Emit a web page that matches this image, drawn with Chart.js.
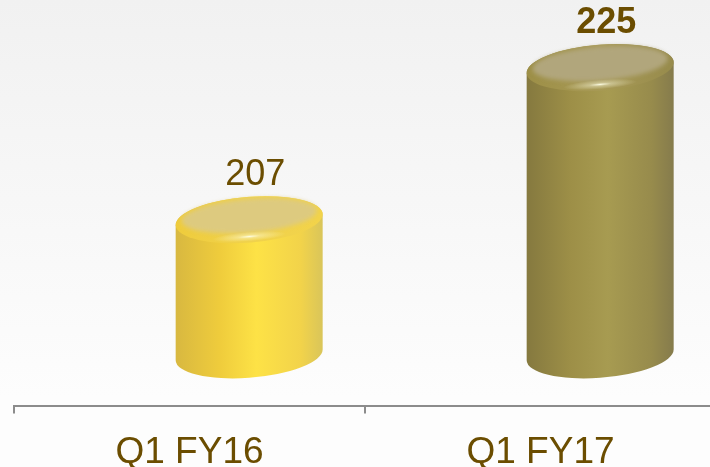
<!DOCTYPE html>
<html>
<head>
<meta charset="utf-8">
<script src="https://cdn.jsdelivr.net/npm/chart.js@4.4.1/dist/chart.umd.min.js"></script>
<style>
  html, body { margin: 0; padding: 0; overflow: hidden; }
  #box {
    position: relative; width: 710px; height: 467px; overflow: hidden;
    background: linear-gradient(#f1f1f1, #fdfdfd 85%);
  }
  #myChart { display: block; position: absolute; left: 0; top: 0; }
</style>
</head>
<body>
<!-- the axis runs on past the right and bottom edges, so the canvas is a bit larger than its box -->
<div id="box"><canvas id="myChart" width="720" height="492"></canvas></div>
<script>
var categories = ['Q1 FY16', 'Q1 FY17']
var values = [207, 225]

// cylinder paints: [left edge, light, centre, right shade, right edge], top face, rim
var bodyColors = [
    ['#d8b840', '#efcc3c', '#fde246', '#f2d34a', '#d9c55a'],
    ['#85793f', '#9d8f47', '#a79b51', '#978b4c', '#857b4c']
]
var topColors = ['#ddca7f', '#b1a67c']
var rimColors = ['#f0d24c', '#a89a56']

var textColor = '#6b4d00'

var cylinders = {
    id: 'cylinders',
    afterDatasetsDraw: function(chart) {
        var ctx = chart.ctx
        var meta = chart.getDatasetMeta(0)
        meta.data.forEach(function(bar, i) {
            var catW = chart.scales.x.width / categories.length
            var cx = bar.x + catW * 0.17
            var rx = bar.width / 2
            var ry = rx * 0.31
            var rot = -0.08
            var topY = bar.y
            var botY = bar.base
            var t0 = Math.atan(-ry * Math.tan(rot) / rx)

            ctx.save()
            // body
            var g = ctx.createLinearGradient(cx - rx, 0, cx + rx, 0)
            var c = bodyColors[i]
            g.addColorStop(0, c[0])
            g.addColorStop(0.3, c[1])
            g.addColorStop(0.55, c[2])
            g.addColorStop(0.85, c[3])
            g.addColorStop(1, c[4])
            ctx.beginPath()
            ctx.ellipse(cx, topY, rx, ry, rot, t0 + Math.PI, t0 + 2 * Math.PI)
            ctx.ellipse(cx, botY, rx, ry, rot, t0, t0 + Math.PI)
            ctx.closePath()
            ctx.fillStyle = g
            ctx.fill()

            // rounded lip of the top face
            var lg = ctx.createLinearGradient(cx - rx, 0, cx + rx, 0)
            lg.addColorStop(0, c[1])
            lg.addColorStop(0.5, rimColors[i])
            lg.addColorStop(1, c[3])
            ctx.beginPath()
            ctx.ellipse(cx, topY, rx, ry, rot, 0, 2 * Math.PI)
            ctx.fillStyle = lg
            ctx.fill()

            // flat top face
            ctx.beginPath()
            ctx.ellipse(cx, topY - 4, rx - 6, ry - 6, rot, 0, 2 * Math.PI)
            ctx.fillStyle = topColors[i]
            ctx.filter = 'blur(2px)'
            ctx.fill()
            ctx.filter = 'none'

            // highlight on the front of the lip
            var hy = topY + ry - 6
            var rg = ctx.createRadialGradient(cx, hy, 0, cx, hy, rx * 0.5)
            rg.addColorStop(0, 'rgba(255,255,230,0.95)')
            rg.addColorStop(0.3, 'rgba(255,255,230,0.4)')
            rg.addColorStop(1, 'rgba(255,255,230,0)')
            ctx.translate(cx, hy)
            ctx.rotate(rot)
            ctx.scale(1, 0.13)
            ctx.translate(-cx, -hy)
            ctx.beginPath()
            ctx.arc(cx, hy, rx * 0.5, 0, 2 * Math.PI)
            ctx.fillStyle = rg
            ctx.fill()
            ctx.restore()

            // value label
            ctx.save()
            ctx.font = (i == values.length - 1 ? 'bold ' : '') + '36px Arial, "Liberation Sans"'
            ctx.fillStyle = textColor
            ctx.textAlign = 'center'
            ctx.textBaseline = 'middle'
            ctx.fillText(values[i], cx + 6, topY - ry - 22)
            ctx.restore()
        })
    }
}

var ctx = document.getElementById('myChart')

var myChart = new Chart(ctx, {
    type: 'bar',
    data: {
        labels: categories,
        datasets: [{
            data: values,
            base: 191,
            backgroundColor: 'rgba(0,0,0,0)',
            categoryPercentage: 1,
            barPercentage: 0.42
        }]
    },
    plugins: [cylinders],
    options: {
        responsive: false,
        animation: false,
        layout: { padding: { left: 14, right: 4, top: 0, bottom: 0 } },
        plugins: {
            legend: { display: false },
            tooltip: { enabled: false }
        },
        scales: {
            y: { display: false, min: 185, max: 233 },
            x: {
                border: { color: '#8c8c8c', width: 2 },
                grid: { drawOnChartArea: false, color: '#8c8c8c', lineWidth: 2, tickLength: 8 },
                ticks: {
                    color: textColor,
                    padding: 17,
                    font: { family: 'Arial, "Liberation Sans"', size: 37 }
                }
            }
        }
    }
})
</script>
</body>
</html>
